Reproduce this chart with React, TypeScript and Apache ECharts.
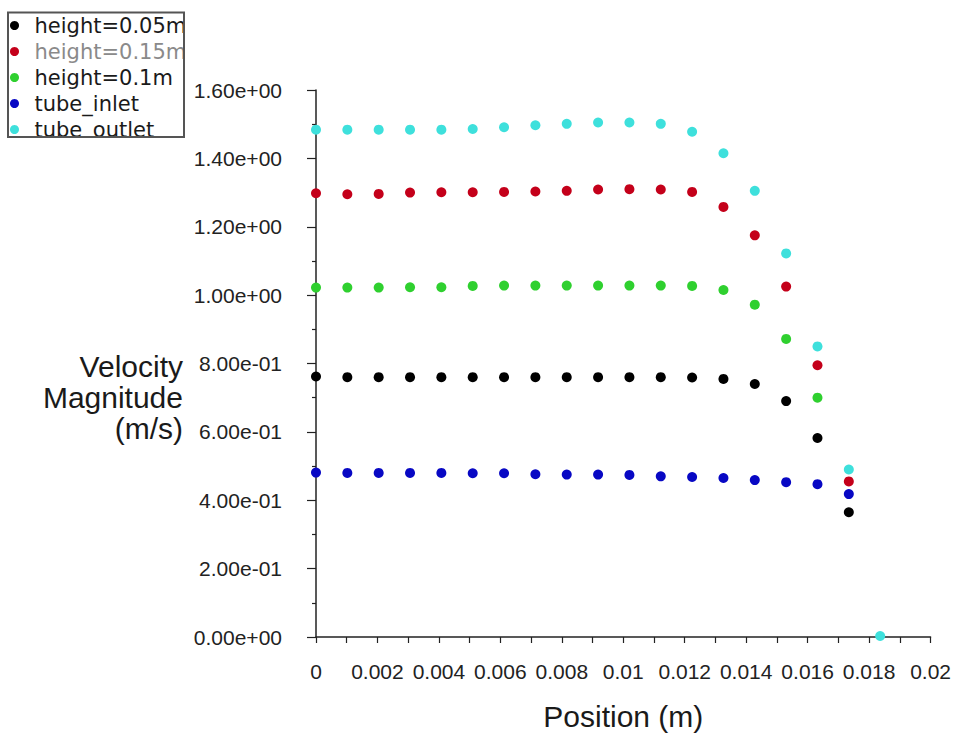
import React, { useEffect, useRef } from "react";
import * as echarts from "echarts";

const positions = [0, 0.00102, 0.00204, 0.00306, 0.00408, 0.0051, 0.00612, 0.00714, 0.00816, 0.00918, 0.0102, 0.01122, 0.01224, 0.01326, 0.01428, 0.0153, 0.01632, 0.01734, 0.01836];

const seriesNames = ["height=0.05m", "height=0.15m", "height=0.1m", "tube_inlet", "tube_outlet"];
const seriesColors = ["#000000", "#c4001a", "#2fd02f", "#0808c4", "#3ee0dc"];
const legendTextColors = ["#1a1a1a", "#8a8a8a", "#1a1a1a", "#1a1a1a", "#1a1a1a"];

const height005 = [0.762, 0.760, 0.760, 0.760, 0.760, 0.760, 0.760, 0.760, 0.760, 0.760, 0.760, 0.760, 0.759, 0.755, 0.740, 0.690, 0.582, 0.365];
const height015 = [1.298, 1.295, 1.296, 1.300, 1.301, 1.301, 1.302, 1.303, 1.305, 1.309, 1.310, 1.309, 1.302, 1.258, 1.175, 1.025, 0.795, 0.455];
const height01 = [1.022, 1.022, 1.022, 1.023, 1.023, 1.027, 1.028, 1.028, 1.028, 1.028, 1.028, 1.028, 1.027, 1.015, 0.972, 0.872, 0.700];
const tubeInlet = [0.481, 0.480, 0.480, 0.480, 0.480, 0.479, 0.479, 0.476, 0.475, 0.475, 0.474, 0.470, 0.468, 0.465, 0.459, 0.453, 0.447, 0.418];
const tubeOutlet = [1.484, 1.484, 1.484, 1.484, 1.484, 1.486, 1.491, 1.497, 1.501, 1.505, 1.505, 1.501, 1.478, 1.415, 1.305, 1.122, 0.850, 0.490, 0.003];

const seriesValues = [height005, height015, height01, tubeInlet, tubeOutlet];

const xTickLabels = ["0", "0.002", "0.004", "0.006", "0.008", "0.01", "0.012", "0.014", "0.016", "0.018", "0.02"];
const yTickLabels = ["0.00e+00", "2.00e-01", "4.00e-01", "6.00e-01", "8.00e-01", "1.00e+00", "1.20e+00", "1.40e+00", "1.60e+00"];

const xTitle = "Position (m)";
const yTitle = "Velocity\nMagnitude\n(m/s)";

const AXIS_FONT = "'Liberation Sans', Arial, sans-serif";

export default function App() {
  const ref = useRef<HTMLDivElement>(null);

  useEffect(() => {
    document.body.style.margin = "0";
    if (!ref.current) return;
    const chart = echarts.init(ref.current, undefined, { renderer: "svg" });

    const series = seriesNames.map((name, k) => ({
      name,
      type: "scatter",
      symbol: "circle",
      symbolSize: 10,
      itemStyle: { color: seriesColors[k], opacity: 1 },
      data: seriesValues[k].map((v, i) => [positions[i], v]),
      z: 2 + k,
    }));

    const option = {
      animation: false,
      backgroundColor: "#ffffff",
      grid: { left: 316, right: 19, top: 90, bottom: 102, containLabel: false },
      legend: {
        orient: "vertical",
        left: 10,
        top: 11.5,
        padding: 0,
        itemGap: -2,
        itemWidth: 30,
        itemHeight: 9,
        icon: "circle",
        selectedMode: false,
        itemStyle: { opacity: 1 },
        textStyle: {
          fontFamily: "'DejaVu Sans', sans-serif",
          fontSize: 21,
          lineHeight: 21,
          color: "#1a1a1a",
          padding: [7, 0, 0, 0],
        },
        data: seriesNames.map((name, k) => ({
          name,
          textStyle: { color: legendTextColors[k] },
        })),
      },
      xAxis: {
        type: "value",
        min: 0,
        max: 0.02,
        interval: 0.002,
        name: xTitle,
        nameLocation: "middle",
        nameGap: 64,
        nameTextStyle: { fontFamily: AXIS_FONT, fontSize: 30, color: "#1a1a1a" },
        splitLine: { show: false },
        axisLine: { show: true, onZero: false, lineStyle: { color: "#222", width: 1.5 } },
        axisTick: { show: true, inside: false, length: 6, lineStyle: { color: "#222", width: 1.2 } },
        minorTick: { show: true, splitNumber: 2, length: 6, lineStyle: { color: "#222", width: 1.2 } },
        axisLabel: {
          margin: 24,
          fontFamily: AXIS_FONT,
          fontSize: 21,
          color: "#222",
          formatter: (v: number) => xTickLabels[Math.round(v / 0.002)] ?? String(v),
        },
      },
      yAxis: {
        type: "value",
        min: 0,
        max: 1.6,
        interval: 0.2,
        splitLine: { show: false },
        axisLine: { show: true, onZero: false, lineStyle: { color: "#222", width: 1.5 } },
        axisTick: { show: true, inside: false, length: 9, lineStyle: { color: "#222", width: 1.2 } },
        minorTick: { show: true, splitNumber: 2, length: 4, lineStyle: { color: "#222", width: 1.2 } },
        axisLabel: {
          margin: 34,
          fontFamily: AXIS_FONT,
          fontSize: 21,
          color: "#222",
          formatter: (v: number) => yTickLabels[Math.round(v / 0.2)] ?? String(v),
        },
      },
      graphic: [
        {
          type: "text",
          z: 50,
          x: 183,
          y: 351,
          style: {
            text: yTitle,
            fontFamily: AXIS_FONT,
            fontSize: 30,
            lineHeight: 31,
            fill: "#1a1a1a",
            align: "right",
            verticalAlign: "top",
          },
        },
        { type: "rect", z: 99, shape: { x: 184, y: 0, width: 9, height: 142 }, style: { fill: "#ffffff" } },
        { type: "rect", z: 99, shape: { x: 0, y: 138, width: 194, height: 25 }, style: { fill: "#ffffff" } },
        { type: "rect", z: 100, shape: { x: 8, y: 12.5, width: 176, height: 124.5 }, style: { fill: "none", stroke: "#555", lineWidth: 2 } },
      ],
      series,
    };

    chart.setOption(option as any);
    return () => chart.dispose();
  }, []);

  return <div ref={ref} style={{ width: 954, height: 739 }} />;
}
